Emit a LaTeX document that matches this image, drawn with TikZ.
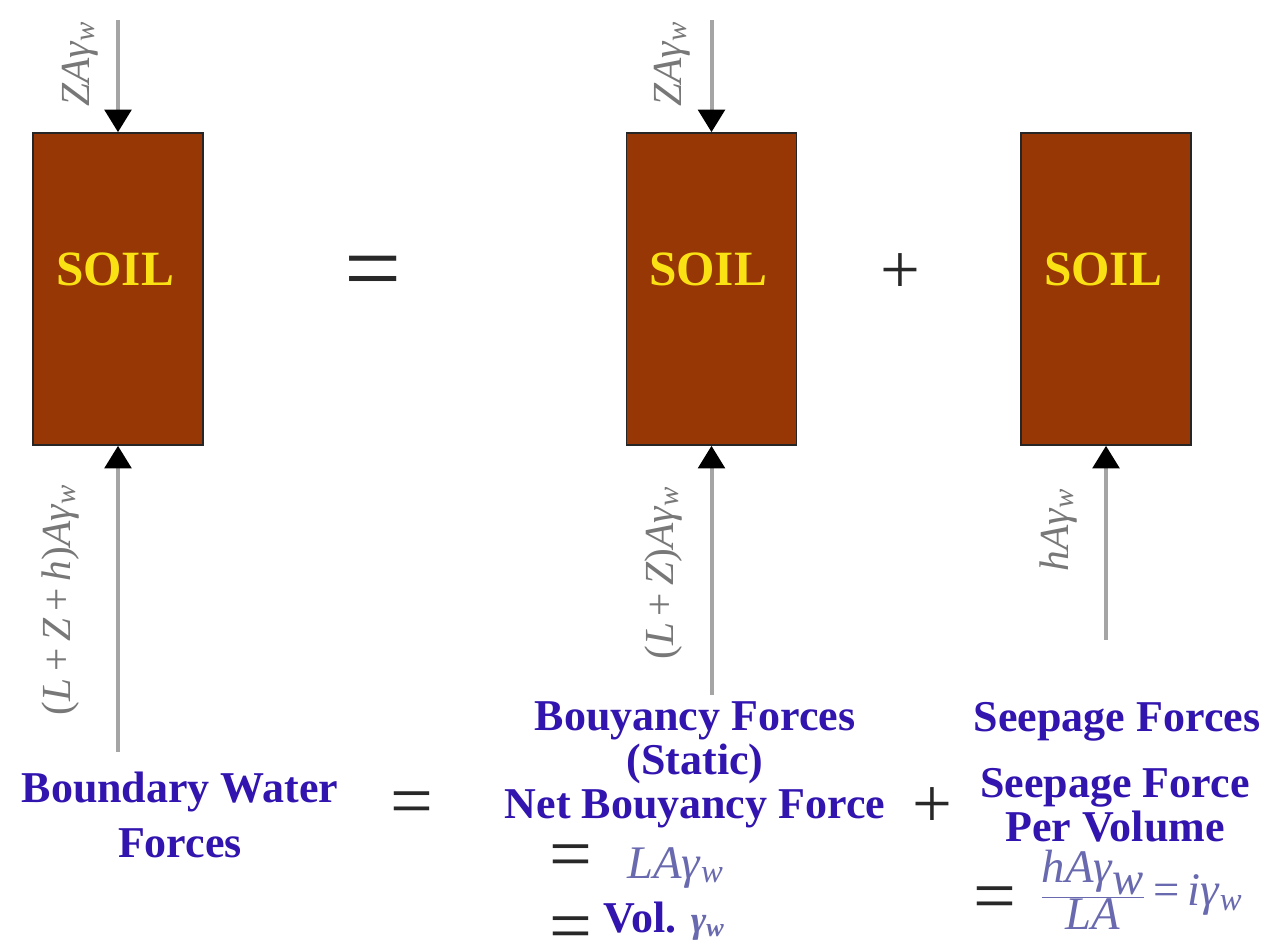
\documentclass[tikz,border=0pt]{standalone}
\usepackage{fontspec}
\setmainfont{Liberation Serif}
\usetikzlibrary{arrows.meta}
\definecolor{soil}{RGB}{150,55,5}
\definecolor{soiltxt}{RGB}{250,225,20}
\definecolor{lbl}{RGB}{50,20,175}
\definecolor{mth}{RGB}{105,105,175}
\definecolor{arr}{RGB}{165,165,165}
\definecolor{flab}{RGB}{120,120,120}
\definecolor{sym}{RGB}{40,40,40}
\begin{document}
\begin{tikzpicture}[x=0.75pt,y=-0.75pt,
  soilbox/.style={draw=black!85, line width=1.2pt, fill=soil, minimum width=127.5pt, minimum height=234pt, inner sep=0pt},
  soiltext/.style={text=soiltxt, font=\fontsize{37}{40}\selectfont\bfseries, inner sep=0pt},
  force/.style={draw=arr, line width=3pt, -{Triangle[width=20pt,length=17pt,color=black]}},
  flabel/.style={rotate=90, text=flab, font=\fontsize{31}{34}\selectfont, inner sep=0pt},
  sym/.style={text=sym, inner sep=0pt},
  blue/.style={text=lbl, font=\fontsize{33}{33}\selectfont\bfseries, align=center, inner sep=0pt},
  mathtxt/.style={text=mth, font=\fontsize{35}{38}\selectfont, inner sep=0pt}
]
\useasboundingbox (0,0) rectangle (1281,946);
\fill[white] (0,0) rectangle (1281,946);

% boxes
\node[soilbox] (b1) at (118,289) {};
\node[soilbox] (b2) at (711.5,289) {};
\node[soilbox] (b3) at (1106,289) {};
\node[soiltext] (s1) at (115,269) {SOIL};
\node[soiltext] (s2) at (708,269) {SOIL};
\node[soiltext] (s3) at (1103,269) {SOIL};

% arrows
\coordinate (t1) at (118,20);
\coordinate (t2) at (711.5,20);
\coordinate (u1) at (118,752);
\coordinate (u2) at (711.5,695);
\coordinate (u3) at (1106,640);
\draw[force] (t1) -- (b1.north);
\draw[force] (t2) -- (b2.north);
\draw[force] (u1) -- (b1.south);
\draw[force] (u2) -- (b2.south);
\draw[force] (u3) -- (b3.south);

% force labels
\node[flabel] (l1) at (80,64) {\textit{ZAγ}\textsubscript{\textit{w}}};
\node[flabel] (l2) at (672,64) {\textit{ZAγ}\textsubscript{\textit{w}}};
\node[flabel] (l3) at (61,600) {(\textit{L}\,+\,\textit{Z}\,+\,\textit{h})\textit{Aγ}\textsubscript{\textit{w}}};
\node[flabel] (l4) at (664,573) {(\textit{L}\,+\,\textit{Z})\textit{Aγ}\textsubscript{\textit{w}}};
\node[flabel] (l5) at (1059,530) {\textit{hAγ}\textsubscript{\textit{w}}};

% top symbols
\node[sym, font=\fontsize{76}{76}\selectfont] (eq1) at (373.5,279) {=};
\node[sym, font=\fontsize{53}{53}\selectfont] (pl1) at (900,274) {+};

% bottom texts
\node[blue, font=\fontsize{33}{41}\selectfont\bfseries] (bw) at (180,815) {Boundary Water\\Forces};
\node[sym, font=\fontsize{57}{57}\selectfont] (eq2) at (411.5,809) {=};
\node[blue] (bf) at (695,765) {Bouyancy Forces\\(Static)\\Net Bouyancy Force};
\node[sym, font=\fontsize{53}{53}\selectfont] (pl2) at (932,808) {+};
\node[sym, align=center, font=\fontsize{57}{54}\selectfont] (eq34) at (571,898) {=\\=};
\node[mathtxt, anchor=base west] (la) at (627,878) {\textit{LAγ}\textsubscript{\textit{w}}};
\node[blue, anchor=base west] (vol) at (603,932) {Vol. \textcolor{mth}{\fontsize{28}{30}\selectfont\textit{γ}\textsubscript{\textit{w}}}};
\node[blue] (sf) at (1117,722) {Seepage Forces};
\node[blue] (spv) at (1115,805) {Seepage Force\\Per Volume};
\node[sym, font=\fontsize{57}{57}\selectfont] (eq5) at (995,904) {=};
\node[mathtxt, anchor=west] (fr) at (1040,890) {$\displaystyle\frac{\textit{hAγ}_{\textit{w}}}{\textit{LA}}$\,=\,\textit{iγ}\textsubscript{\textit{w}}};
\end{tikzpicture}
\end{document}
